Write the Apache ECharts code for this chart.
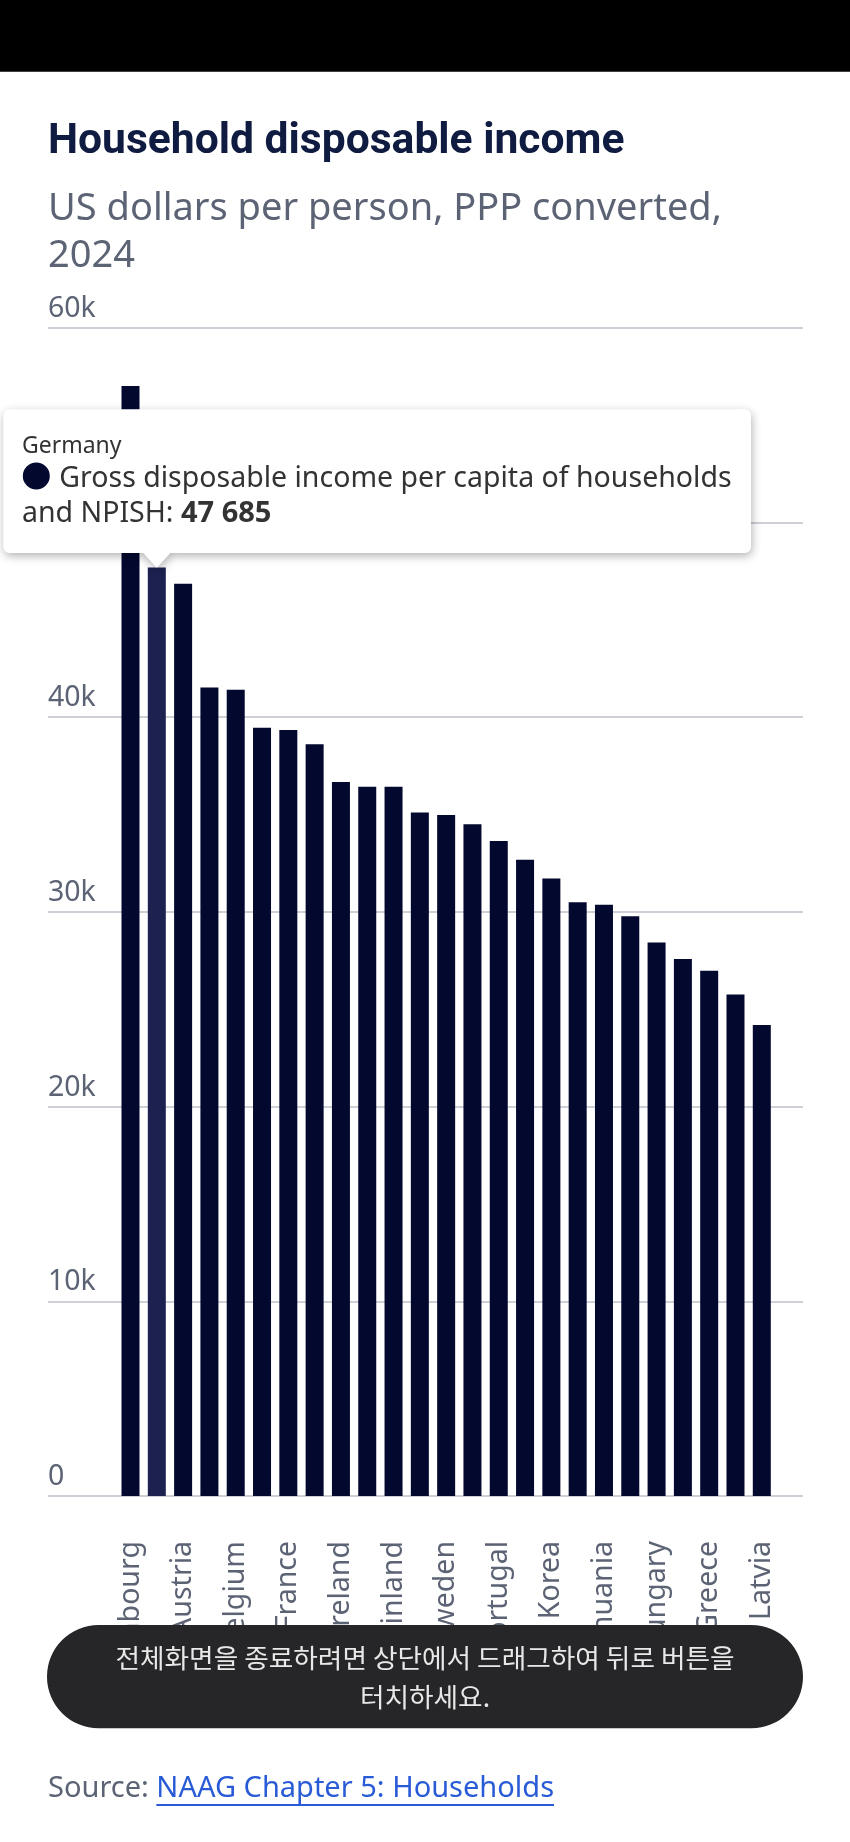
<!DOCTYPE html>
<html><head><meta charset="utf-8">
<script src="https://cdn.jsdelivr.net/npm/echarts@6/dist/echarts.min.js"></script>
<style>html,body{margin:0;padding:0;background:#fff}#c{width:850px;height:1842px}</style>
</head><body><div id="c"></div>
<script>
// ---- data ----
const categories = ['Luxembourg','Germany','Austria','Netherlands','Belgium','Denmark','France','Italy','Ireland','Czechia','Finland','Spain','Sweden','Poland','Portugal','Slovenia','Korea','Estonia','Lithuania','Slovak Republic','Hungary','Croatia','Greece','Bulgaria','Latvia'];
const values = [57000,47685,46850,41520,41400,39460,39340,38610,36670,36430,36430,35100,34980,34500,33640,32670,31710,30490,30370,29770,28420,27580,26980,25750,24190];
const yTickLabels = ['0','10k','20k','30k','40k','50k','60k'];
const seriesName = 'Gross disposable income per capita of households and NPISH';
const highlightIndex = 1;
const titleText = 'Household disposable income';
const subtitleLines = ['US dollars per person, PPP converted,','2024'];
const sourceLabel = 'Source: ';
const sourceLink = 'NAAG Chapter 5: Households';
const toastLines = ['전체화면을 종료하려면 상단에서 드래그하여 뒤로 버튼을','터치하세요.'];

// ---- style ----
const FONT = '"Noto Sans","Open Sans",sans-serif';
const BAR = '#03082f', BAR_HI = '#1d2150', TXT = '#5c6374', GRIDC = '#cdd1d7';
const GRID_TOP = 327.7, GRID_BOTTOM = 346;

const chart = echarts.init(document.getElementById('c'), null, {renderer:'canvas', width:850, height:1842});
chart.setOption({
  animation:false,
  grid:[{left:48,right:47,top:GRID_TOP,bottom:GRID_BOTTOM},{left:117.35,right:75.05,top:GRID_TOP,bottom:GRID_BOTTOM}],
  xAxis:[
    {gridIndex:0,type:'value',min:0,max:1,show:false},
    {gridIndex:1,type:'category',data:categories,axisLine:{show:false},axisTick:{show:false},
     axisLabel:{interval:1,rotate:90,margin:45,fontSize:28.5,color:TXT,fontFamily:FONT}}
  ],
  yAxis:[
    {gridIndex:0,type:'value',min:0,max:60000,interval:10000,
     axisLine:{show:false},axisTick:{show:false},
     splitLine:{lineStyle:{color:GRIDC,width:2}},
     axisLabel:{inside:true,margin:0,align:'left',verticalAlign:'bottom',lineHeight:28,padding:[0,0,5,0],
       fontSize:28.5,color:TXT,fontFamily:FONT,formatter:(v)=>yTickLabels[Math.round(v/10000)]}},
    {gridIndex:1,type:'value',min:0,max:60000,interval:10000,show:false}
  ],
  series:[{type:'bar',xAxisIndex:1,yAxisIndex:1,data:values,barWidth:18,silent:true,
    itemStyle:{color:(p)=>p.dataIndex===highlightIndex?BAR_HI:BAR}}]
});

function fmt(v){return String(v).replace(/\B(?=(\d{3})+(?!\d))/g,' ');}
function txt(x,y,text,font,fill,align,z){
  return {type:'text',x:x,y:y,z:z||50,style:{text:text,font:font,fill:fill,align:align||'left',textAlign:align||'left',verticalAlign:'middle',textVerticalAlign:'middle'}};
}
const ctx = document.createElement('canvas').getContext('2d');
function measure(t,font){ctx.font=font;return ctx.measureText(t).width;}

const apex = chart.convertToPixel({xAxisIndex:1,yAxisIndex:1},[highlightIndex,values[highlightIndex]]);
const bx0=3.3, by0=409.3, bx1=751, by1=553, pw=14.5;
const ax=apex[0], ay=apex[1];
const tri = [[ax-pw,by1-1],[ax+pw,by1-1],[ax,ay]];
const shadow = {shadowBlur:10,shadowColor:'rgba(0,0,0,0.3)',shadowOffsetX:1,shadowOffsetY:3};
const parts = seriesName.split(' and ');

const srcFont = '29px "Noto Sans"';
const srcW = measure(sourceLabel,srcFont), linkW = measure(sourceLink,srcFont);

chart.setOption({graphic:[
  {type:'rect',z:40,shape:{x:0,y:0,width:850,height:71.7},style:{fill:'#000'}},
  txt(48,142,titleText,'bold 42.6px Roboto','#0f1b40'),
  txt(48,209.2,subtitleLines[0],'38px "Noto Sans"',TXT),
  txt(48,256.2,subtitleLines[1],'38px "Noto Sans"',TXT),
  // tooltip
  {type:'polygon',z:59,shape:{points:tri},style:Object.assign({fill:'#fff'},shadow)},
  {type:'rect',z:60,shape:{x:bx0,y:by0,width:bx1-bx0,height:by1-by0,r:6},style:Object.assign({fill:'#fff'},shadow)},
  {type:'polygon',z:61,shape:{points:tri},style:{fill:'#fff'}},
  txt(22,446.1,categories[highlightIndex],'23px "Noto Sans"','#333',null,62),
  {type:'circle',z:62,shape:{cx:36.3,cy:476,r:13.5},style:{fill:BAR}},
  txt(59.3,479.2,parts[0],'28.5px "Noto Sans"','#333',null,62),
  {type:'text',x:22,y:513.6,z:62,style:{text:'{a|and '+parts[1]+': }{b|'+fmt(values[highlightIndex])+'}',verticalAlign:'middle',textVerticalAlign:'middle',
    rich:{a:{font:'28.5px "Noto Sans"',fill:'#333',color:'#333'},b:{font:'bold 29px "Noto Sans"',fill:'#333',color:'#333'}}}},
  // toast
  {type:'rect',z:70,shape:{x:47,y:1625,width:756,height:103.3,r:51.6},style:{fill:'#262628'}},
  txt(425,1658,toastLines[0],'26.7px "Noto Sans CJK KR"','#e8e8e8','center',71),
  txt(425,1697,toastLines[1],'26.7px "Noto Sans CJK KR"','#e8e8e8','center',71),
  // source
  txt(48,1788.4,sourceLabel,srcFont,TXT),
  txt(48+srcW,1788.4,sourceLink,srcFont,'#2a5bd7'),
  {type:'rect',z:50,shape:{x:48+srcW,y:1804,width:linkW,height:2},style:{fill:'#2a5bd7'}}
]});
</script></body></html>
